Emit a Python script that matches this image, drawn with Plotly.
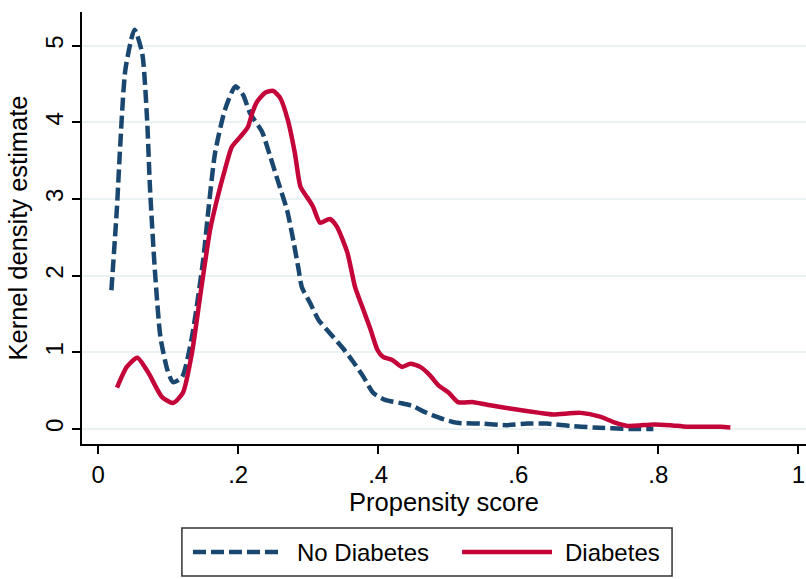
import plotly.graph_objects as go

# ---- data ----
no_diab_x = [0.019, 0.027, 0.031, 0.039, 0.052, 0.063, 0.070, 0.074, 0.081, 0.089,
             0.099, 0.107, 0.120, 0.134, 0.150, 0.158, 0.167, 0.181, 0.196, 0.207,
             0.217, 0.234, 0.246, 0.258, 0.270, 0.279, 0.286, 0.291, 0.303, 0.315,
             0.331, 0.350, 0.364, 0.379, 0.393, 0.410, 0.431, 0.449, 0.467, 0.489,
             0.513, 0.546, 0.584, 0.613, 0.641, 0.674, 0.707, 0.760, 0.793]
no_diab_y = [1.81, 2.90, 3.60, 4.69, 5.21, 4.90, 4.03, 3.16, 2.08, 1.20,
             0.77, 0.61, 0.68, 1.20, 2.20, 2.90, 3.60, 4.16, 4.47, 4.36,
             4.12, 3.88, 3.55, 3.20, 2.85, 2.45, 2.10, 1.85, 1.64, 1.42,
             1.25, 1.05, 0.88, 0.68, 0.47, 0.38, 0.34, 0.30, 0.22, 0.14,
             0.08, 0.07, 0.05, 0.07, 0.07, 0.04, 0.02, 0.00, 0.00]

diab_x = [0.027, 0.041, 0.056, 0.072, 0.091, 0.107, 0.121, 0.134, 0.146, 0.150,
          0.160, 0.170, 0.181, 0.191, 0.203, 0.214, 0.220, 0.227, 0.239, 0.250,
          0.260, 0.271, 0.281, 0.289, 0.298, 0.307, 0.317, 0.331, 0.341, 0.356,
          0.367, 0.377, 0.389, 0.399, 0.407, 0.420, 0.434, 0.446, 0.460, 0.474,
          0.486, 0.500, 0.514, 0.536, 0.560, 0.593, 0.631, 0.650, 0.689, 0.717,
          0.736, 0.756, 0.793, 0.817, 0.841, 0.889, 0.903]
diab_y = [0.54, 0.81, 0.93, 0.73, 0.42, 0.34, 0.47, 0.99, 1.75, 2.00,
          2.60, 3.00, 3.38, 3.68, 3.81, 3.94, 4.12, 4.27, 4.39, 4.41,
          4.32, 4.03, 3.60, 3.16, 3.03, 2.90, 2.69, 2.74, 2.64, 2.30,
          1.85, 1.60, 1.30, 1.03, 0.94, 0.90, 0.81, 0.85, 0.81, 0.70,
          0.57, 0.48, 0.35, 0.35, 0.31, 0.26, 0.21, 0.19, 0.21, 0.16,
          0.09, 0.04, 0.06, 0.05, 0.03, 0.03, 0.02]

x_tick_vals = [0, 0.2, 0.4, 0.6, 0.8, 1.0]
x_tick_text = ["0", ".2", ".4", ".6", ".8", "1"]
y_tick_vals = [0, 1, 2, 3, 4, 5]
y_tick_text = ["0", "1", "2", "3", "4", "5"]

series_names = ["No Diabetes", "Diabetes"]

BLUE = "#1a476f"
RED = "#c4053a"
FONT = "Liberation Sans, Arial, Helvetica, sans-serif"
DASH = "13px,5px"

fig = go.Figure()
fig.add_trace(go.Scatter(x=no_diab_x, y=no_diab_y, mode="lines", name=series_names[0],
                         line=dict(color=BLUE, width=4.5, dash=DASH, shape="spline", smoothing=0.6),
                         showlegend=False))
fig.add_trace(go.Scatter(x=diab_x, y=diab_y, mode="lines", name=series_names[1],
                         line=dict(color=RED, width=4.5, shape="spline", smoothing=0.6),
                         showlegend=False))

# legend (drawn as a boxed key below the plot)
L = -0.25
shapes = [
    dict(type="rect", xref="paper", yref="paper", x0=0.138, x1=0.815, y0=-0.3056, y1=-0.1944,
         line=dict(color="#333333", width=1.5), fillcolor="white"),
    dict(type="line", xref="paper", yref="paper", x0=0.1533, x1=0.2776, y0=L, y1=L,
         line=dict(color=BLUE, width=4.5, dash=DASH)),
    dict(type="line", xref="paper", yref="paper", x0=0.5249, x1=0.6492, y0=L, y1=L,
         line=dict(color=RED, width=4.5)),
]
annotations = [
    dict(xref="paper", yref="paper", x=0.2942, y=L, xanchor="left", yanchor="middle",
         text=series_names[0], showarrow=False, font=dict(size=24, color="black", family=FONT)),
    dict(xref="paper", yref="paper", x=0.6644, y=L, xanchor="left", yanchor="middle",
         text=series_names[1], showarrow=False, font=dict(size=24, color="black", family=FONT)),
]

fig.update_layout(
    width=806, height=579,
    margin=dict(l=82, r=0, t=12, b=135, autoexpand=False),
    paper_bgcolor="white", plot_bgcolor="white",
    font=dict(family=FONT, size=24, color="black"),
    shapes=shapes, annotations=annotations,
    showlegend=False,
)
fig.update_xaxes(
    range=[-0.023, 1.011], tickvals=x_tick_vals, ticktext=x_tick_text,
    showline=True, linecolor="black", linewidth=1.5, mirror=False,
    ticks="outside", ticklen=8, tickwidth=1.5, tickcolor="black",
    showgrid=False, zeroline=False, automargin=False, ticklabeloverflow="allow",
    tickfont=dict(size=24),
    title=dict(text="Propensity score", font=dict(size=25.5), standoff=6),
)
fig.update_yaxes(
    range=[-0.196, 5.44], tickvals=y_tick_vals, ticktext=y_tick_text,
    showline=True, linecolor="black", linewidth=1.5,
    ticks="outside", ticklen=8, tickwidth=1.5, tickcolor="black",
    showgrid=True, gridcolor="#eaf2f3", gridwidth=1.5, zeroline=False,
    automargin=False, ticklabeloverflow="allow",
    tickangle=-90, tickfont=dict(size=24),
    title=dict(text="Kernel density estimate", font=dict(size=25.5), standoff=6),
)

# remove the page's default 8px body margin so the figure fills the window exactly
fig.write_html("out.html", config={"displayModeBar": False},
               post_script="document.body.style.margin='0';document.body.style.overflow='hidden';")
